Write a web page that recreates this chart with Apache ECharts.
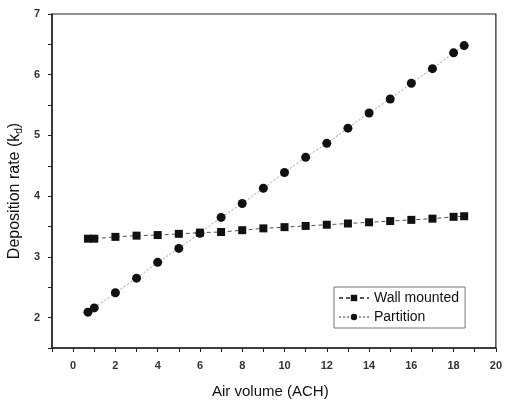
<!DOCTYPE html>
<html><head><meta charset="utf-8">
<script src="https://cdn.jsdelivr.net/npm/echarts@6/dist/echarts.min.js"></script>
<style>html,body{margin:0;padding:0;background:#fff}#c{width:505px;height:401px}</style>
</head><body><div id="c"></div>
<script>
const wallX = [0.7, 1.0, 2, 3, 4, 5, 6, 7, 8, 9, 10, 11, 12, 13, 14, 15, 16, 17, 18, 18.5];
const wallY = [3.30, 3.30, 3.33, 3.35, 3.36, 3.38, 3.40, 3.41, 3.44, 3.47, 3.49, 3.51, 3.53, 3.55, 3.57, 3.59, 3.61, 3.63, 3.66, 3.67];
const partX = [0.7, 1.0, 2, 3, 4, 5, 6, 7, 8, 9, 10, 11, 12, 13, 14, 15, 16, 17, 18, 18.5];
const partY = [2.09, 2.16, 2.41, 2.65, 2.91, 3.14, 3.39, 3.65, 3.88, 4.13, 4.39, 4.64, 4.87, 5.12, 5.37, 5.60, 5.86, 6.10, 6.36, 6.48];
const seriesNames = ['Wall mounted', 'Partition'];
const xTitle = 'Air volume (ACH)';
const yTitle = ['Deposition rate (k', 'd', ')'];

const chart = echarts.init(document.getElementById('c'), null, {renderer: 'canvas'});
const font = 'Liberation Sans, Arial, sans-serif';
chart.setOption({
  animation: false,
  backgroundColor: '#fff',
  grid: {left: 52, right: 7, top: 14, bottom: 53, show: true, borderColor: '#222', borderWidth: 1.2},
  legend: {
    orient: 'vertical', left: 334, top: 287, width: 148,
    borderColor: '#777', borderWidth: 1, padding: [4, 6, 4, 4],
    itemWidth: 30, itemHeight: 8, itemGap: 5,
    textStyle: {fontFamily: font, fontSize: 14, color: '#111'},
    data: seriesNames
  },
  graphic: [
    {type: 'text', left: 212, top: 384,
     style: {text: xTitle, font: '15px ' + font, fill: '#111'}},
    {type: 'text', x: 6, y: 191, rotation: Math.PI / 2,
     style: {text: '{a|' + yTitle[0] + '}{s|' + yTitle[1] + '}{a|' + yTitle[2] + '}',
       align: 'center', verticalAlign: 'top',
       rich: {a: {fontFamily: font, fontSize: 16, fill: '#111'},
              s: {fontFamily: font, fontSize: 10, fill: '#111', padding: [8, 0, 0, 0]}}}}
  ],
  xAxis: {
    type: 'value', min: -1, max: 20, interval: 1,
    axisLine: {show: true, onZero: false, lineStyle: {color: '#222', width: 1.5}},
    axisTick: {show: true, length: 4, lineStyle: {color: '#222'}},
    axisLabel: {fontFamily: font, fontSize: 11, fontWeight: 'bold', color: '#333', margin: 12,
      formatter: v => (v >= 0 && v % 2 === 0) ? String(v) : ''},
    splitLine: {show: false}
  },
  yAxis: {
    type: 'value', min: 1.5, max: 7, interval: 0.5,
    axisLine: {show: true, onZero: false, lineStyle: {color: '#222', width: 1.5}},
    axisTick: {show: true, length: 4, lineStyle: {color: '#222'}},
    axisLabel: {fontFamily: font, fontSize: 11, fontWeight: 'bold', color: '#333', margin: 12,
      formatter: v => Number.isInteger(v) ? String(v) : ''},
    splitLine: {show: false}
  },
  series: [
    {name: seriesNames[0], type: 'line', symbol: 'rect', symbolSize: 8,
     data: wallX.map((x, i) => [x, wallY[i]]),
     itemStyle: {color: '#111'},
     lineStyle: {color: '#555', width: 1, type: [4, 3]}},
    {name: seriesNames[1], type: 'line', symbol: 'circle', symbolSize: 9,
     data: partX.map((x, i) => [x, partY[i]]),
     itemStyle: {color: '#111'},
     lineStyle: {color: '#999', width: 1, type: [2, 2]}}
  ]
});
</script></body></html>
